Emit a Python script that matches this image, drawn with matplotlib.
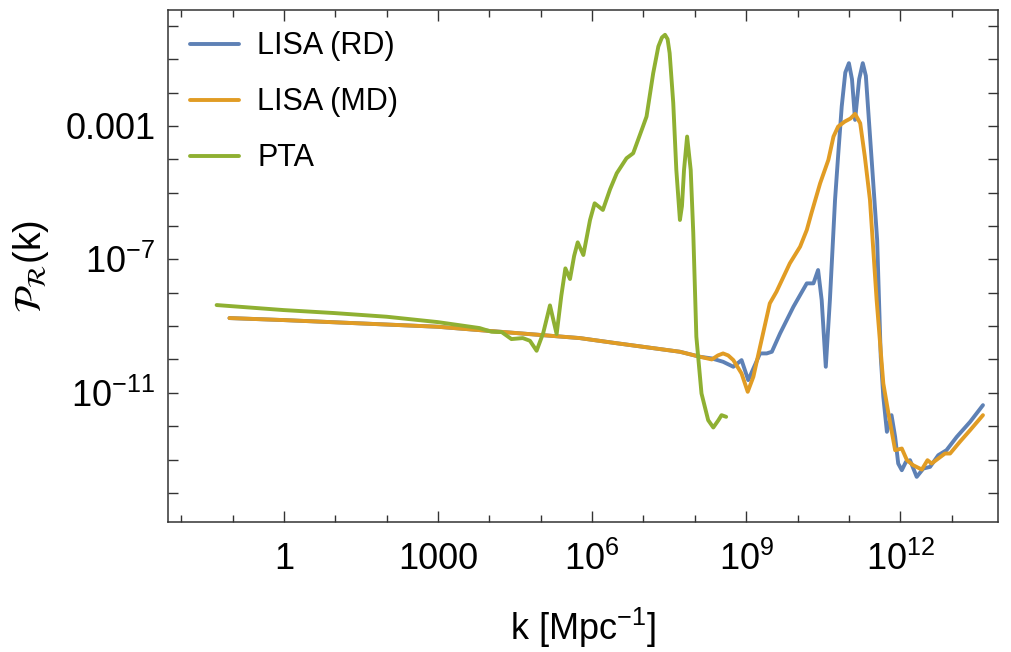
import numpy as np
import matplotlib
matplotlib.use("Agg")
import matplotlib.pyplot as plt

plt.rcParams['font.family'] = ['Liberation Sans', 'DejaVu Sans']
plt.rcParams['mathtext.fontset'] = 'custom'
plt.rcParams['mathtext.rm'] = 'Liberation Sans'
plt.rcParams['mathtext.it'] = 'Liberation Sans:italic'

# values, as log10(k) and log10(P)
pta_logk = [-1.31, -0.01, 0.98, 2.00, 2.99, 3.81, 4.04, 4.24, 4.43, 4.65, 4.79, 4.92,
            5.05, 5.18, 5.31, 5.40, 5.48, 5.57, 5.65, 5.72, 5.83, 5.96, 6.05, 6.21,
            6.35, 6.48, 6.67, 6.80, 6.99, 7.06, 7.19, 7.29, 7.36, 7.42, 7.47, 7.51,
            7.58, 7.64, 7.71, 7.75, 7.79, 7.85, 7.92, 7.97, 8.03, 8.13, 8.26, 8.36,
            8.46, 8.52, 8.61]
pta_logp = [-8.37, -8.52, -8.61, -8.72, -8.88, -9.06, -9.17, -9.18, -9.39, -9.36, -9.44, -9.74,
            -9.20, -8.38, -9.24, -8.10, -7.27, -7.59, -6.90, -6.49, -6.87, -5.82, -5.32, -5.52,
            -4.90, -4.42, -3.97, -3.82, -3.02, -2.72, -1.42, -0.62, -0.35, -0.27, -0.40, -0.82,
            -2.31, -4.32, -5.82, -5.40, -4.32, -3.32, -4.32, -6.21, -9.32, -11.02, -11.82, -12.04,
            -11.82, -11.67, -11.72]

md_logk = [-1.06, -0.01, 2.99, 4.04, 5.76, 6.41, 7.71, 8.10, 8.33, 8.45, 8.55, 8.65,
           8.75, 8.91, 9.03, 9.14, 9.27, 9.46, 9.59, 9.85, 10.05, 10.18, 10.27, 10.44,
           10.60, 10.70, 10.79, 10.92, 11.03, 11.12, 11.22, 11.31, 11.41, 11.54, 11.67, 11.77,
           11.90, 12.03, 12.13, 12.25, 12.42, 12.53, 12.61, 12.74, 12.87, 12.97, 13.16, 13.36,
           13.61]
md_logp = [-8.76, -8.82, -9.02, -9.15, -9.36, -9.50, -9.77, -9.92, -10.00, -9.88, -9.82, -9.88,
           -10.02, -10.42, -10.97, -10.52, -9.62, -8.32, -7.97, -7.12, -6.62, -6.12, -5.62, -4.72,
           -4.02, -3.32, -3.02, -2.87, -2.78, -2.64, -2.92, -3.92, -5.22, -8.22, -10.72, -11.62,
           -12.72, -12.67, -13.02, -13.17, -13.30, -13.02, -13.12, -12.97, -12.82, -12.82, -12.47, -12.12,
           -11.67]

rd_logk = [-1.06, -0.01, 2.99, 4.04, 5.76, 6.41, 7.71, 8.10, 8.33, 8.55, 8.75, 8.91,
           9.04, 9.27, 9.40, 9.50, 9.66, 9.92, 10.18, 10.31, 10.40, 10.47, 10.55, 10.63,
           10.73, 10.79, 10.86, 10.93, 11.00, 11.06, 11.12, 11.20, 11.27, 11.33, 11.38, 11.47,
           11.55, 11.62, 11.67, 11.74, 11.83, 11.90, 11.96, 12.03, 12.11, 12.19, 12.32, 12.45,
           12.58, 12.74, 12.90, 13.10, 13.36, 13.61]
rd_logp = [-8.76, -8.82, -9.02, -9.15, -9.36, -9.50, -9.77, -9.92, -9.97, -10.07, -10.22, -10.02,
           -10.62, -9.82, -9.82, -9.77, -9.22, -8.42, -7.72, -7.72, -7.32, -8.22, -10.22, -8.22,
           -5.22, -3.90, -2.42, -1.40, -1.12, -1.60, -2.82, -1.60, -1.12, -1.50, -2.62, -4.62,
           -6.42, -9.92, -11.12, -12.17, -11.67, -12.32, -13.12, -13.32, -13.07, -13.02, -13.52, -13.27,
           -13.22, -12.87, -12.72, -12.32, -11.87, -11.37]

series = [("LISA (RD)", rd_logk, rd_logp, "#5E81B5"),
          ("LISA (MD)", md_logk, md_logp, "#E19C24"),
          ("PTA", pta_logk, pta_logp, "#8FB032")]

fig = plt.figure(figsize=(10.11, 6.52), dpi=100)
ax = fig.add_axes([0.166, 0.199, 0.821, 0.786])

for name, lk, lp, col in series:
    ax.plot(10.0 ** np.array(lk), 10.0 ** np.array(lp), color=col, lw=2.8, label=name,
            solid_joinstyle='round', solid_capstyle='round')

ax.set_xscale('log')
ax.set_yscale('log')
ax.set_xlim(10 ** -2.26, 10 ** 13.90)
ax.set_ylim(10 ** -14.88, 10 ** 0.48)

ax.set_xticks([1e0, 1e3, 1e6, 1e9, 1e12],
              labels=["1", "1000", r"$10^{6}$", r"$10^{9}$", r"$10^{12}$"])
ax.set_xticks(10.0 ** np.arange(-2, 14), minor=True)
ax.set_xticklabels([], minor=True)
ax.set_yticks([1e-3, 1e-7, 1e-11],
              labels=["0.001", r"$10^{-7}$", r"$10^{-11}$"])
ax.set_yticks(10.0 ** np.arange(-14, 1), minor=True)
ax.set_yticklabels([], minor=True)

ax.tick_params(which='both', direction='in', top=True, right=True,
               labelsize=26, color='#333333', width=1.0)
ax.tick_params(axis='x', which='major', length=8, pad=14)
ax.tick_params(axis='x', which='minor', length=5)
ax.tick_params(axis='y', which='major', length=7, pad=9)
ax.tick_params(axis='y', which='minor', length=7)
for s in ax.spines.values():
    s.set_color('#333333')
    s.set_linewidth(1.1)

ax.set_xlabel(r"k [Mpc$^{-1}$]", fontsize=26, labelpad=20)
ax.set_ylabel(r"$\mathcal{P}_{\mathcal{R}}$(k)", fontsize=27, labelpad=10,
              math_fontfamily='stix')

ax.legend(loc='upper left', bbox_to_anchor=(0.027, 0.958), frameon=False,
          fontsize=22, handlelength=1.6, handletextpad=0.6, labelspacing=0.85,
          borderpad=0, borderaxespad=0)

fig.savefig("out.png", dpi=100)
